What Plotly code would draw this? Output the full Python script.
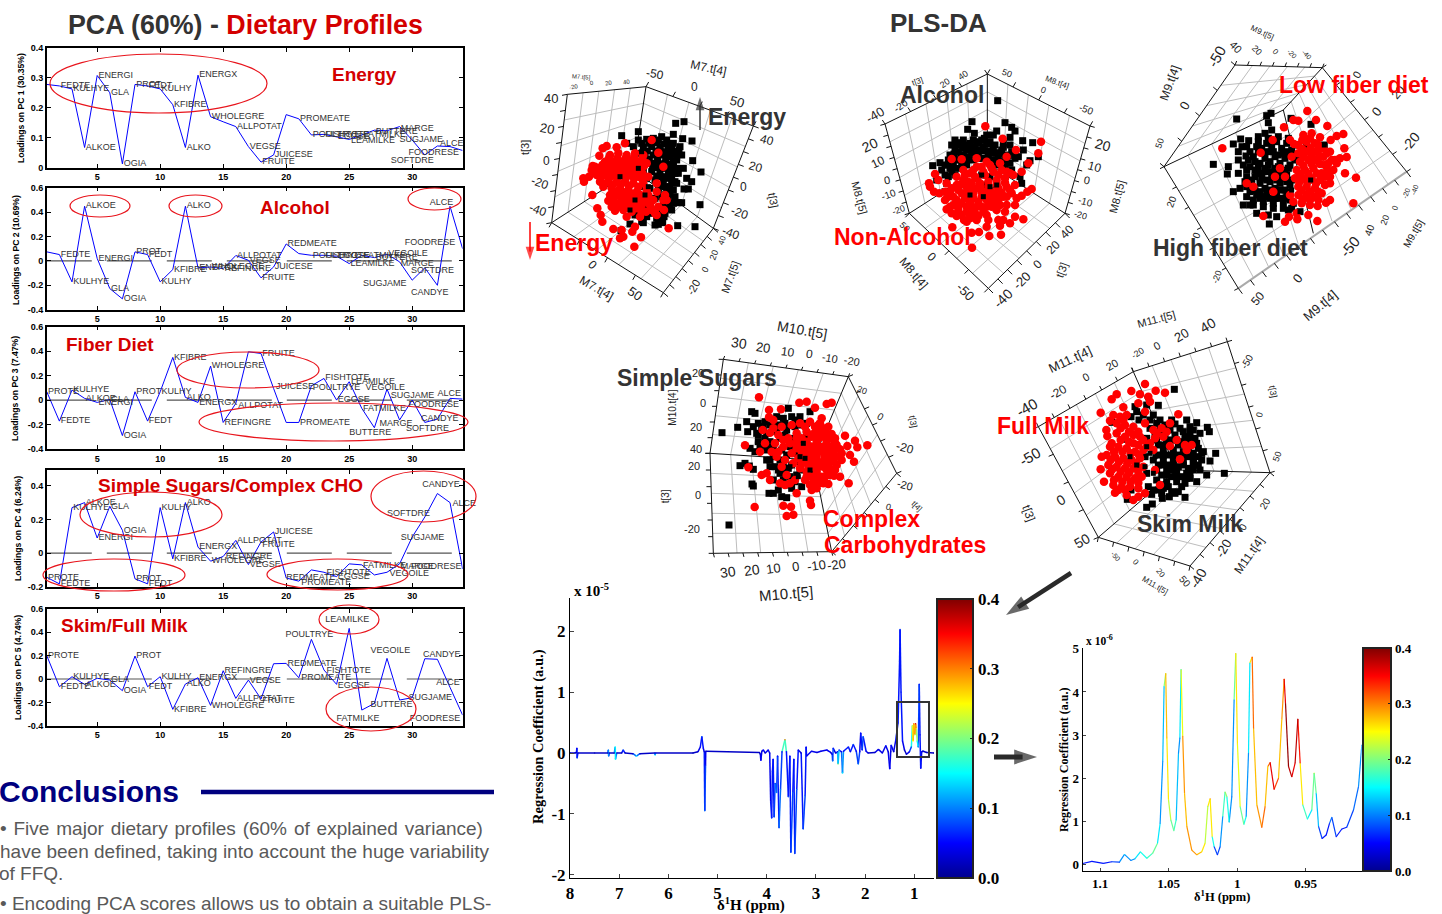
import plotly.graph_objects as go

W, H = 1442, 914

# ---------- PCA loadings ----------
variables = ["PROTE","FEDTE","KULHYE","ALKOE","ENERGI","GLA","OGIA","PROT","FEDT","KULHY","KFIBRE","ALKO",
             "ENERGX","WHOLEGRE","REFINGRE","ALLPOTAT","VEGSE","FRUITE","JUICESE","REDMEATE","PROMEATE",
             "POULTRYE","FISHTOTE","EGGSE","LEAMILKE","FATMILKE","BUTTERE","VEGOILE","MARGE","SUGJAME",
             "SOFTDRE","CANDYE","ALCE","FOODRESE"]
pc1 = [.278,.273,.263,.067,.308,.25,.012,.278,.273,.263,.21,.067,.309,.17,.153,.137,.07,.018,.042,.177,.163,
       .109,.111,.102,.094,.109,.125,.123,.137,.092,.042,.072,.07,.057]
pc2 = [.074,.052,-.172,.448,.02,-.227,-.311,.074,.052,-.172,-.071,.448,-.057,-.05,-.063,.044,.005,-.139,-.05,
       .139,.06,.046,.046,.038,-.022,.046,.027,.055,-.008,-.158,-.057,-.2,.448,.10]
pc3 = [.068,-.172,.082,.014,-.019,.005,-.29,.068,-.172,.068,.349,.022,-.019,.278,-.183,-.027,.395,.381,.095,
       -.183,-.183,.117,.177,0,.15,-.068,-.226,.09,-.163,0,-.183,-.155,.014,.008]
pc4 = [-.144,-.183,.271,.301,.09,.279,.136,-.153,-.183,.271,-.034,.301,.036,-.048,-.02,.076,-.068,.066,.126,
       -.148,-.167,-.1,-.114,-.14,-.064,-.07,-.13,-.114,-.064,.096,.215,.355,.301,-.094]
pc5 = [.2,-.066,.02,-.046,.006,-.009,-.1,.197,-.066,.02,-.26,-.043,.011,-.226,.071,-.166,-.009,-.171,.131,.134,
       .011,.34,.077,-.046,.434,-.266,-.209,.177,-.18,-.16,.174,.169,-.071,-.309]
pc_titles = ["Loadings on PC 1 (30.35%)","Loadings on PC 2 (10.69%)","Loadings on PC 3 (7.47%)",
             "Loadings on PC 4 (6.24%)","Loadings on PC 5 (4.74%)"]
x_ticks = [5,10,15,20,25,30]

# label placement adjustments (variable: x, y in data units; None = not drawn)
place1 = {"PROTE":None,"REDMEATE":None,"REFINGRE":None,"CANDYE":None,"VEGOILE":None,"SOFTDRE":(28.3,.023),"FOODRESE":(29.7,.05),
          "ALCE":(32.2,.078),"SUGJAME":(29,.094),"BUTTERE":(27.1,.12),"MARGE":(29.1,.131),"LEAMILKE":(25.15,.09)}
place2 = {"PROTE":None,"PROMEATE":None,"FOODRESE":(29.4,.148),"ALCE":(31.4,.478),"SOFTDRE":(29.9,-.082),
          "CANDYE":(29.9,-.262),"SUGJAME":(26.1,-.19),"MARGE":(29.1,-.022),"LEAMILKE":(25.1,-.022)}
place3 = {"REDMEATE":None,"VEGSE":None,"SUGJAME":(28.3,.033),"ALCE":(32,.054),"FOODRESE":(29.7,-.035),"CANDYE":(30.7,-.152),
          "SOFTDRE":(29.5,-.232),"MARGE":(27.4,-.19),"BUTTERE":(25,-.267),"FATMILKE":(26.1,-.074),
          "LEAMILKE":(25.15,.15),"VEGOILE":(26.3,.1),"FISHTOTE":(23.1,.183),"POULTRYE":(22.1,.1),
          "JUICESE":(19.2,.109),"ALLPOTAT":(16.2,-.046),"ENERGX":(13.1,-.022)}
place4 = {"BUTTERE":None,"LEAMILKE":None,"POULTRYE":None,"CANDYE":(30.8,.407),"ALCE":(33.2,.295),"SOFTDRE":(28,.235),
          "SUGJAME":(29.1,.092),"FOODRESE":(29.9,-.08),"MARGE":(29.1,-.08),"FATMILKE":(26.1,-.078),
          "VEGOILE":(28.2,-.124),"REDMEATE":(20,-.144),"PROMEATE":(21.2,-.177),"FISHTOTE":(23.2,-.114),
          "FRUITE":(18.1,.05),"REFINGRE":(15.2,-.024)}
place5 = {"MARGE":None,"JUICESE":None,"SOFTDRE":None,"ENERGI":None,"POULTRYE":(19.95,.377),"PROMEATE":(21.2,.011),"FISHTOTE":(23.2,.071),
          "EGGSE":(24.1,-.057),"LEAMILKE":(23.1,.511),"FATMILKE":(24,-.337),"BUTTERE":(26.7,-.217),
          "VEGOILE":(26.7,.243),"SUGJAME":(29.7,-.157),"FOODRESE":(29.8,-.337),"CANDYE":(30.85,.211),
          "ALCE":(31.9,-.031),"FRUITE":(18.1,-.186),"VEGSE":(17.1,-.014),"WHOLEGRE":(14.1,-.229)}

# ---------- Spectrum (full range) ----------
ppm_full = [8.0,7.9,7.87,7.86,7.855,7.84,7.5,7.23,7.22,7.215,7.2,7.1,7.08,7.075,7.05,6.95,6.92,6.88,6.72,6.65,6.58,
            6.28,6.27,6.26,5.5,5.4,5.35,5.32,5.29,5.27,5.26,5.245,5.24,4.15,4.13,4.12,4.1,4.07,4.03,3.97,3.94,3.92,
            3.9,3.885,3.87,3.85,3.83,3.8,3.78,3.75,3.72,3.69,3.63,3.6,3.56,3.53,3.51,3.47,3.45,3.43,3.39,3.36,3.3,
            3.26,3.22,3.2,3.19,3.09,2.98,2.9,2.78,2.7,2.67,2.66,2.65,2.6,2.56,2.55,2.53,2.48,2.46,2.44,2.34,2.3,
            2.24,2.18,2.14,2.11,2.09,2.06,2.04,1.98,1.94,1.8,1.73,1.65,1.58,1.53,1.5,1.48,1.47,1.42,1.38,1.33,1.3,
            1.29,1.27,1.24,1.2,1.16,1.1,1.06,1.04,1.025,1.01,.99,.975,.96,.94,.92,.9,.885,.87,.85,.83,.82,.75,.6]
coef_full = [0,0,.01,.08,-.08,0,0,0,.05,-.05,0,0,.1,-.1,0,0,.05,0,-.01,-.05,-.01,0,-.03,0,0,.02,.1,.27,.08,.02,-.95,
             -.2,.03,.01,-.02,-.12,.03,.05,0,.05,.0,-.8,-1.07,-.3,-.1,-1.05,-.5,-.65,-.05,-1.23,-.6,.02,.22,.02,-.72,
             -.05,-1.63,-.65,-.1,-1.65,-.6,.05,0,-1.25,-.7,.1,-.05,.03,.01,.03,.05,.01,-.02,-.13,.08,.0,.02,-.18,.05,
             .02,-.33,.03,.1,.02,.14,.03,-.18,.02,.33,.05,.27,.03,0,.01,.06,0,.12,.02,-.26,.02,.13,.02,.2,.5,1.5,2.03,
             1.0,.2,.05,-.02,.02,.1,.45,.2,.48,.3,.48,.4,.2,.1,1.13,.3,-.25,.02,.03,.03,.01,0]
corr_full = [.02,.02,.03,.05,.08,.02,.02,.02,.1,.1,.03,.02,.15,.15,.03,.02,.08,.02,.03,.15,.03,.03,.14,.03,.02,.03,
             .05,.08,.05,.03,.09,.06,.03,.02,.03,.05,.03,.05,.03,.05,.03,.06,.07,.06,.05,.08,.07,.1,.05,.08,.1,.05,.3,
             .05,.08,.05,.07,.08,.05,.07,.09,.04,.03,.08,.08,.05,.04,.04,.03,.04,.05,.03,.04,.1,.06,.03,.04,.2,.06,.04,
             .15,.05,.06,.04,.08,.05,.1,.04,.05,.05,.09,.04,.03,.03,.04,.03,.06,.03,.05,.03,.06,.03,.05,.06,.06,.07,.06,
             .05,.03,.03,.05,.09,.22,.25,.3,.22,.36,.24,.18,.1,.06,.05,.05,.04,.03,.03,.02,.02]

# ---------- Spectrum (expanded) ----------
ppm_zoom = [1.1127,1.106,1.0976,1.0915,1.0859,1.0822,1.0776,1.0745,1.0706,1.0659,1.0616,1.0581,1.0562,1.0543,1.0533,
            1.0521,1.0513,1.0501,1.0484,1.0462,1.0445,1.0428,1.0418,1.0409,1.0397,1.0384,1.0367,1.0331,1.0294,1.0258,
            1.0234,1.0214,1.0197,1.0182,1.0168,1.0144,1.0124,1.0105,1.0088,1.0075,1.0058,1.0039,1.0022,1.001,.9998,
            .9978,.9951,.9934,.9917,.9907,.989,.988,.9856,.982,.9796,.9776,.9759,.973,.9698,.9674,.9657,.9647,.9625,
            .9601,.9577,.9557,.954,.9521,.9487,.9455,.9438,.9423,.9406,.938,.935,.9326,.9309,.9277,.9236,.92,.9151,
            .9114,.909]
coef_zoom = [.02,.07,.02,.06,.05,.23,.09,.13,.29,.14,.26,.49,.95,2.39,4.13,4.43,2.93,1.5,1.03,.78,1.03,2.58,2.93,4.52,
             2.97,1.65,.88,.33,.22,.29,.49,1.34,1.52,.64,.41,.22,.41,1.11,1.68,1.57,.98,1.57,3.82,4.89,2.81,1.34,.93,
             1.11,2.58,4.67,4.81,3.16,1.38,.86,1.34,2.27,2.36,1.74,2.0,3.36,4.3,3.74,2.27,2.03,2.35,3.37,2.35,1.38,
             1.05,1.26,2.12,1.65,.88,.6,.68,.95,1.09,.64,.82,.86,1.26,1.81,2.77]
corr_zoom = [.05,.05,.06,.07,.07,.14,.09,.12,.16,.16,.2,.17,.11,.1,.15,.27,.27,.24,.2,.19,.15,.1,.1,.19,.3,.27,.28,.29,
             .28,.26,.24,.2,.31,.2,.1,.06,.09,.13,.21,.2,.12,.08,.12,.27,.26,.21,.17,.13,.1,.17,.33,.3,.25,.32,.29,.26,
             .36,.35,.3,.26,.33,.39,.39,.36,.37,.38,.32,.2,.15,.15,.24,.15,.09,.05,.06,.07,.1,.05,.06,.07,.09,.1,.11]

# ---------- PLS-DA score clouds (projected positions) ----------
m7_black = [(497,250),(522,245),(385,275),(335,287),(490,283),(518,296),(546,303),(507,330),(548,362),(573,396),(530,415),(545,425),(520,385),(535,447),(522,447),(515,488),(505,488),(570,494),(555,560),(503,557),(445,553),(458,548),(400,548),(333,572),(360,552),
            (385,300),(410,298),(430,295),(455,290),(470,300),(490,310),(510,320),(400,320),(425,320),(450,320),(475,325),(495,335),(515,345),(350,310),(370,320),(380,340),(405,345),(430,345),(455,345),(480,350),(500,360),(390,365),(415,370),(440,370),(465,370),(490,380),(505,400),(400,390),(425,395),(450,395),(475,400),(495,425),(410,415),(435,420),(460,425),(480,440),(500,430),(390,440),(420,445),(445,450),(470,460),(380,480),(410,465),(435,475),(460,490),(480,495),(485,510),(465,520),(440,510),(410,500),(385,505),(375,525),(410,530),(440,535),(462,530),(395,545),(435,555),
            (395,310),(418,310),(440,308),(462,312),(485,322),(412,333),(438,333),(462,335),(487,342),(418,357),(443,358),(467,358),(490,365),(428,382),(452,382),(477,385),(440,408),(463,410),(485,412),(452,438),(472,448),(490,450),(455,470),(475,478),(490,490),
            (445,300),(475,312),(505,335),(450,332),(475,338),(500,348),(430,370),(455,372),(478,372),(500,385),(440,383),(465,385),(490,395),(450,410),(475,415),(495,400),(465,440),(485,428),(480,462),(495,470),(470,505),(450,525),(425,520),(400,515),(455,540)]
m7_red = [(290,318),(278,325),(268,347),(248,378),(245,390),(237,410),(220,415),(222,425),(247,465),(262,505),(272,525),(277,545),(310,567),(335,570),(330,595),(340,590),(367,575),(393,592),(373,620),(476,565),(435,520),(462,510),(408,515),(350,530),(390,530),(375,560),(345,310),(320,322),(445,338),(460,380),(425,300),
          (300,345),(325,340),(350,345),(375,340),(400,345),(285,365),(310,365),(335,365),(360,365),(385,365),(410,370),(265,385),(290,385),(315,385),(340,385),(365,385),(390,390),(260,405),(285,405),(310,405),(335,405),(360,405),(385,410),(415,410),(270,425),(295,425),(320,425),(345,425),(370,430),(400,430),(440,430),(280,440),(305,445),(330,445),(355,450),(380,455),(410,450),(440,455),(465,465),(300,465),(325,465),(350,470),(375,470),(400,475),(430,480),(460,480),(295,482),(320,490),(345,490),(370,495),(395,495),(420,495),(445,500),(315,512),(340,510),(365,515),(395,515),(440,525),(470,480),(255,380),(275,400),(250,395),
          (297,355),(322,355),(347,355),(372,355),(397,355),(277,375),(302,375),(327,375),(352,375),(377,375),(402,378),(272,395),(297,395),(322,395),(347,395),(372,395),(397,400),(272,415),(297,415),(322,415),(347,415),(372,415),(397,418),(282,432),(307,435),(332,435),(357,438),(385,440),(312,455),(337,455),(362,460),(388,463),(415,465),(310,477),(335,478),(360,482),(385,483),(410,485),(330,500),(355,503),(380,505),(305,500),(425,510)]
m8_black = [(503,152),(426,215),(525,218),(545,232),(555,243),(413,238),(500,243),(433,250),(470,255),(490,255),(540,262),(578,272),(608,278),(375,270),(400,270),(365,285),(385,285),(410,285),(430,270),(455,270),(480,275),(520,280),(540,285),(580,300),(360,315),(385,305),(410,300),(435,290),(460,290),(490,295),(515,300),(545,305),(565,320),(625,320),(600,332),(330,338),(308,347),(355,330),(380,330),(415,320),(445,310),(475,315),(505,320),(530,330),(590,345),(335,360),(360,355),(395,345),(355,380),(375,375),(320,390),(350,400),(345,425),(420,435),(480,380),(455,375),(500,405),(570,380),(575,400),(470,405),(545,360),(500,345),
            (375,298),(398,295),(422,295),(447,280),(470,282),(495,285),(520,292),(400,315),(425,310),(450,300),(475,303),(500,308),(525,315),(555,312),(370,345),(405,335),(430,330),(458,325),(490,330),(515,335),(540,340),(345,345),(345,375),(365,365),
            (440,275),(463,265),(420,280),(392,278),(435,303),(462,303),(488,310),(512,310),(535,318),(372,312),(392,320),(412,328),(445,325),(472,325),(500,330),(525,345),(355,345),(380,355),(410,345),(555,325)]
m8_red = [(466,229),(518,266),(633,275),(625,310),(558,300),(530,320),(595,340),(365,327),(395,328),(440,325),(470,335),(550,375),(575,365),(315,372),(325,390),(297,400),(300,410),(312,425),(328,430),(350,478),(365,490),(380,498),(402,510),(440,510),(475,510),(505,510),(520,510),(540,520),(555,500),(580,508),(510,527),(470,530),(367,532),(425,548),(447,546),(478,558),(513,554),(426,593),(605,417),(592,425),(575,437),(560,445),(530,465),(555,465),(525,485),(500,480),(495,460),
          (345,450),(370,440),(395,430),(420,420),(345,425),(365,415),(390,405),(415,395),(440,385),(465,375),(490,365),(515,360),(540,370),(380,380),(405,375),(430,360),(455,350),(480,345),(510,340),(350,400),(380,405),(405,430),(430,430),(455,425),(480,420),(505,415),(530,410),(555,405),(545,430),(520,440),(495,445),(470,450),(445,455),(420,460),(395,460),(370,465),(385,480),(410,485),(435,490),(460,485),(485,470),(510,465),(450,400),(475,395),(500,390),(525,385),(420,505),(380,455),(440,470),(470,470),
          (400,390),(425,400),(450,412),(475,408),(500,402),(525,398),(360,430),(385,420),(410,410),(440,415),(465,425),(490,430),(515,428),(540,420),(355,440),(380,450),(405,445),(430,445),(455,440),(480,435),(505,430),(530,440),(360,470),(385,470),(410,470),(430,475),(455,470),(480,455),(505,450),(395,495),(420,495),(445,498),(470,495),(410,515),(435,380),(460,365),(485,355),(420,370),(400,360),(440,350),(505,375),(530,365)]
m9_black = [(740,297),(830,287),(843,280),(835,308),(845,330),(825,340),(963,313),(903,295),(805,350),(752,357),(776,362),(730,372),(756,380),(670,433),(715,440),(712,462),(745,395),(768,408),(745,420),(760,435),(745,460),(730,515),(750,505),(770,500),(760,555),(780,555),(800,580),(838,612),(835,585),(860,590),(895,570),(930,575),(1003,375),(962,480),
            (800,380),(830,370),(860,365),(890,370),(920,375),(950,380),(790,410),(820,400),(850,395),(880,400),(910,405),(940,410),(780,440),(810,430),(840,425),(870,430),(900,435),(770,470),(800,460),(830,455),(860,460),(890,465),(780,500),(810,490),(840,485),(870,490),(900,495),(800,525),(830,520),(860,520),(890,525),(820,545),(850,550),(880,545),(910,550),(790,540),(770,530),
            (815,385),(845,380),(875,385),(905,390),(935,395),(795,425),(825,415),(855,410),(885,415),(915,420),(795,450),(825,445),(855,445),(885,450),(785,480),(815,475),(845,470),(875,475),(905,480),(795,512),(825,505),(855,505),(885,510),(810,535),(840,535),(870,535),(900,540),(770,380),(780,395),
            (805,365),(835,355),(865,350),(895,355),(805,395),(835,395),(865,405),(895,395),(925,405),(775,420),(805,440),(835,435),(865,440),(895,445),(770,450),(815,460),(845,455),(875,455),(765,485),(795,470),(830,480),(860,480),(890,485),(780,515),(810,515),(840,510),(870,510),(900,515),(825,530),(855,535),(885,535),(790,555),(820,560),(850,565),(880,565),(905,565)]
m9_red = [(952,273),(910,300),(925,302),(978,300),(1012,318),(882,322),(1060,342),(1040,348),(1022,360),(990,352),(697,385),(1063,385),(1070,411),(1050,415),(1098,473),(1065,460),(1090,550),(1020,540),(1008,548),(983,558),(982,603),(955,585),(922,598),(885,605),(820,588),(897,590),(770,490),(790,500),(850,515),(812,398),(848,360),(905,410),(870,445),(855,470),(885,470),
          (900,360),(940,345),(965,340),(925,375),(950,365),(975,370),(1000,385),(1020,395),(925,400),(950,395),(975,395),(1000,410),(1025,420),(930,425),(955,420),(980,420),(1005,435),(1030,450),(920,450),(945,450),(970,445),(995,460),(1020,470),(915,475),(940,475),(965,475),(990,480),(1020,490),(925,500),(950,500),(975,505),(995,520),(925,525),(950,525),(975,530),(910,545),(935,550),(960,555),(900,525),(920,580),
          (912,372),(937,360),(960,355),(985,375),(1010,400),(937,387),(962,385),(987,385),(1015,430),(940,410),(965,408),(990,408),(1035,420),(940,437),(965,432),(990,432),(1012,450),(930,462),(955,462),(980,460),(1005,470),(928,487),(952,487),(978,490),(1005,495),(935,512),(960,515),(985,515),(938,538),(960,540),(985,540),(1040,430)]
m10_black = [(336,368),(383,352),(410,335),(425,305),(435,310),(413,365),(535,295),(430,350),(445,340),(465,335),(480,345),(500,320),(520,325),(545,320),(570,320),(600,305),(440,370),(465,385),(445,395),(420,415),(435,425),(390,467),(405,460),(430,478),(418,468),(426,522),(430,528),(477,550),(490,550),(505,540),(515,560),(530,563),(357,645),(470,420),(490,410),(510,385),(530,360),(555,350),(590,340),(515,420),(540,410),(565,395),(590,375),(470,450),(495,470),(520,465),(545,465),(570,480),(600,490),(510,490),(540,500),(575,530),(545,535),(480,470),
             (455,360),(480,395),(500,365),(450,410),(490,440),(510,450),(530,435),(555,430),(570,455),(525,480),(490,510),(555,515),(520,345),(555,330),(575,345),(500,345),
             (525,340),(460,350),(445,375),(470,370),(525,375),(545,385),(470,405),(500,425),(480,450),(505,480),(535,475),(560,495),(520,510),(535,525)]
m10_red = [(447,262),(477,300),(513,298),(568,278),(590,275),(615,293),(650,282),(665,278),(477,322),(490,330),(635,325),(405,406),(450,425),(415,472),(434,591),(520,587),(543,590),(530,618),(550,614),(600,572),(603,585),(560,550),(605,540),(716,520),(772,406),(742,412),(735,392),(705,377),(712,408),(732,455),(720,435),(690,500),(672,497),(655,522),(458,360),(480,368),(490,355),(515,350),(545,345),(465,400),(495,400),(520,390),(455,495),(470,490),(480,510),(510,520),(525,525),(585,510),
           (570,340),(600,335),(630,340),(655,350),(560,370),(590,365),(620,365),(650,370),(675,385),(535,385),(560,400),(590,395),(620,395),(650,395),(680,405),(545,430),(575,425),(605,425),(635,425),(665,425),(695,430),(550,460),(580,455),(610,455),(640,455),(670,455),(695,450),(590,485),(620,485),(650,480),(675,480),(610,515),(635,515),(620,535),(500,440),(525,450),(600,410),(630,410),(615,440),(645,440),
           (585,350),(615,350),(640,355),(575,385),(605,380),(635,380),(660,385),(575,410),(605,410),(640,410),(665,410),(690,418),(560,415),(590,440),(620,425),(650,425),(680,440),(565,445),(595,470),(625,470),(655,468),(680,465),(570,475),(605,500),(635,500),(660,495),(625,520),(600,525),(520,410),(505,375),(485,425),(515,470),(540,520),(530,495),(555,510),(505,425),
           (625,345),(610,372),(640,368),(665,372),(625,385),(650,385),(590,405),(620,410),(650,410),(675,398),(675,418),(590,425),(620,440),(650,440),(670,440),(605,440),(590,455),(625,455),(655,455),(610,470),(640,470),(665,480),(620,500),(645,500),(640,520),(590,500),(575,460),(560,385),(540,400)]
m11_black = [(553,268),(505,316),(435,320),(470,315),(366,367),(423,350),(447,360),(490,345),(510,360),(545,360),(620,368),(600,380),(652,382),(658,395),(630,400),(677,460),(660,483),(703,520),(650,525),(640,455),(470,622),(487,612),(412,598),(517,595),(585,592),(538,590),(423,570),(485,583),(405,418),(440,495),(620,545),(600,535),(565,575),
             (480,385),(510,390),(540,390),(570,385),(600,400),(470,415),(500,420),(530,420),(560,420),(590,425),(620,430),(490,450),(520,450),(550,450),(580,455),(610,460),(635,480),(490,480),(520,480),(550,480),(580,485),(610,490),(630,510),(470,520),(500,510),(530,510),(560,515),(590,520),(610,510),(500,540),(530,545),(560,545),(585,550),(490,570),(520,565),(545,575),(465,470),
             (495,405),(525,405),(555,405),(585,410),(615,415),(505,435),(535,435),(565,435),(595,440),(625,445),(505,465),(535,465),(565,465),(595,470),(625,470),(505,495),(535,495),(565,500),(595,505),(625,495),(515,525),(545,530),(575,530),(600,525),(510,555),(535,560),(515,580),(575,560),(590,360),(610,390),
             (500,370),(525,375),(555,372),(580,395),(600,415),(520,435),(550,420),(580,425),(610,430),(520,465),(550,465),(580,465),(610,475),(635,460),(520,495),(550,495),(580,495),(610,495),(530,525),(560,530),(590,535),(545,510),(475,560),(505,570),(555,580),(460,345),(480,360),(440,335)]
m11_red = [(465,252),(497,272),(525,278),(424,273),(380,283),(365,298),(450,283),(475,290),(480,305),(445,310),(400,322),(332,338),(370,345),(390,350),(410,345),(465,335),(360,362),(349,390),(352,408),(565,343),(540,370),(515,385),(430,405),(560,420),(585,435),(605,435),(540,438),(590,450),(570,478),(495,510),(510,555),(335,470),(332,508),(342,545),(375,578),
           (380,370),(405,375),(430,380),(465,370),(490,390),(380,400),(405,410),(430,430),(460,420),(495,415),(520,410),(360,440),(385,440),(410,445),(435,455),(460,450),(350,465),(375,470),(400,475),(425,480),(450,475),(355,495),(380,500),(405,505),(430,505),(460,500),(360,520),(385,530),(410,530),(435,535),(455,530),(370,555),(395,560),(420,560),(445,565),(430,600),(445,590),(465,580),(405,570),
           (392,385),(417,395),(445,395),(392,420),(417,425),(445,435),(480,430),(372,455),(397,455),(422,460),(447,465),(362,480),(387,485),(412,490),(437,490),(367,508),(392,515),(417,518),(445,515),(372,540),(397,545),(422,545),(445,548),(385,570),(410,585),(500,400),(470,440),(490,450),(530,395),(450,410),(400,360),(365,430)]

A = dict(crop=(510,40,480,270), black=m7_black, red=m7_red, over=[(375,480),(405,465),(440,410),(470,440),(360,510),(385,385),(330,410),(415,440),(395,335),(440,360),(425,390)],
    walls=[[(172,163),(408,140),(370,390),(125,548)],[(408,140),(730,258),(610,565),(370,390)],[(125,548),(370,390),(610,565),(460,758)]],
    edges=[[(172,163),(408,140)],[(408,140),(730,258)],[(730,258),(610,565)],[(610,565),(460,758)],[(125,548),(460,758)],[(172,163),(125,548)],[(408,140),(370,390)],[(125,548),(370,390)],[(610,565),(370,390)]],
    ticks=[((172,163),(125,548),8,(-16,3)),((730,258),(610,565),8,(16,6)),((610,565),(460,758),8,(14,12)),((125,548),(460,758),4,(-8,14)),((408,140),(730,258),4,(8,-14))],
    labels=[("M7.t[4]",595,85,12,12),("-50",435,103,10,12),("0",552,140,0,12),("50",680,185,15,13),("40",122,175,0,13),("20",112,265,10,13),("0",110,362,0,12),("-20",90,430,20,12),("-40",85,510,20,12),("t[3]",47,322,-90,11),("40",770,300,15,12),("20",738,380,15,12),("0",700,440,0,12),("-20",690,518,20,12),("-40",662,580,20,12),("t[3]",790,480,80,11),("0",248,675,45,12),("50",375,760,35,13),("M7.t[4]",258,745,30,12),("40",635,600,-70,8),("20",612,645,-70,9),("0",585,690,-60,9),("-20",550,740,-60,11),("M7.t[5]",660,710,-70,11),("-20",190,140,-10,6),("0",245,130,-10,6),("20",295,128,-10,6),("40",350,125,-10,6),("M7.t[5]",215,110,5,6)])
B = dict(crop=(830,50,310,270), black=m8_black, red=m8_red, over=[(420,435),(455,375),(480,410),(500,405),(460,440)],
    walls=[[(165,222),(472,72),(472,340),(238,490)],[(472,72),(780,228),(705,490),(472,340)],[(238,490),(472,340),(705,490),(475,715)]],
    edges=[[(165,222),(472,72)],[(472,72),(780,228)],[(780,228),(705,490)],[(705,490),(475,715)],[(475,715),(238,490)],[(238,490),(165,222)],[(472,72),(472,340)],[(238,490),(472,340)],[(705,490),(472,340)]],
    ticks=[((165,222),(238,490),8,(-14,4)),((780,228),(705,490),8,(14,4)),((705,490),(475,715),8,(14,14)),((238,490),(475,715),4,(-12,12)),((472,72),(780,228),4,(8,-14)),((165,222),(472,72),4,(-8,-12))],
    labels=[("-40",138,195,-30,13),("-20",212,165,-35,10),("20",345,100,-35,9),("40",400,75,-35,9),("t[3]",262,95,-20,8),("50",530,70,20,9),("0",640,120,20,9),("-50",770,178,20,10),("M8.t[4]",682,97,20,8),("20",120,285,-25,14),("10",145,335,-25,12),("0",170,390,-10,11),("-10",175,432,-20,10),("-20",205,480,-20,9),("M8.t[5]",88,445,75,11),("20",820,285,15,14),("10",795,350,15,12),("0",770,390,10,11),("-10",765,455,15,10),("-20",750,495,15,9),("M8.t[5]",860,440,-75,11),("50",225,530,45,9),("0",305,622,45,12),("-50",405,725,45,13),("M8.t[4]",250,670,50,12),("40",710,545,-45,12),("20",670,590,-45,12),("0",623,642,-45,12),("-20",575,690,-45,13),("-40",520,745,-45,14),("t[3]",695,660,-70,11)])
C = dict(crop=(990,20,450,300), black=m9_black, red=m9_red, over=[(962,480),(895,570),(930,575),(900,440),(880,400),(905,510),(1003,375)],
    walls=[[(735,135),(997,143),(880,270),(522,440)],[(997,143),(1250,455),(970,640),(880,270)],[(522,440),(880,270),(970,640),(745,805)]],
    edges=[[(735,135),(997,143)],[(735,135),(522,440)],[(522,440),(745,805)],[(1250,455),(997,143)],[(522,440),(880,270)],[(997,143),(880,270)],[(970,640),(880,270)]],
    ticks=[((735,135),(522,440),4,(-12,-10)),((522,440),(745,805),6,(-12,6)),((997,143),(1250,455),6,(12,-8)),((745,805),(1250,455),14,(12,16)),((735,135),(997,143),7,(5,-12))],
    labels=[("M9.t[5]",815,38,25,8),("-50",680,110,-60,15),("40",738,80,45,11),("20",800,90,45,9),("0",855,95,45,8),("-20",905,100,45,7),("-40",950,102,45,7),("M9.t[4]",540,190,-70,12),("0",582,258,-60,13),("50",510,370,-70,9),("0",1100,165,-60,11),("20",1225,215,-50,12),("0",1160,275,-50,13),("-20",1260,365,-50,14),("20",545,545,-70,10),("0",618,645,-70,10),("-20",680,770,-70,9),("-50",1080,680,-50,15),("0",922,775,-50,13),("50",805,835,-50,12),("M9.t[4]",990,855,-40,13),("40",1140,630,-70,10),("20",1185,600,-70,9),("0",1215,565,-70,8),("-20",1248,520,-70,7),("-40",1275,510,-70,7),("M9.t[5]",1270,640,-60,10)],
    thick=[[(745,805),(1250,455)]])
D = dict(crop=(610,310,320,300), black=m10_black, red=m10_red, over=[(580,400),(570,440),(600,480),(540,470),(565,500),(585,445)],
    walls=[[(340,148),(715,200),(610,450),(300,430)],[(715,200),(860,490),(665,725),(610,450)],[(300,430),(610,450),(665,725),(310,730)]],
    edges=[[(340,148),(715,200)],[(340,148),(300,430)],[(300,430),(310,730)],[(310,730),(665,725)],[(665,725),(860,490)],[(860,490),(715,200)],[(715,200),(610,450)],[(300,430),(610,450)],[(665,725),(610,450)]],
    ticks=[((340,148),(715,200),8,(4,-10)),((340,148),(300,430),6,(-14,0)),((300,430),(310,730),6,(-14,0)),((310,730),(665,725),8,(3,12)),((715,200),(860,490),6,(14,-6)),((860,490),(665,725),6,(12,10))],
    labels=[("M10.t[5]",578,60,10,14),("30",388,100,8,14),("20",458,112,8,13),("10",533,125,8,12),("0",597,133,8,12),("-10",660,145,10,11),("-20",725,152,10,11),("20",265,190,0,11),("0",278,278,0,11),("20",258,352,0,11),("40",258,417,0,11),("M10.t[4]",187,292,-90,10),("20",253,468,0,11),("0",265,555,0,11),("-20",245,657,0,11),("t[3]",167,560,-90,10),("20",755,240,20,9),("0",812,318,30,10),("-20",885,415,15,12),("t[3]",910,335,80,9),("-20",885,525,15,11),("0",835,590,15,9),("t[4]",920,590,45,8),("30",355,785,-8,14),("20",425,780,-8,14),("10",490,775,-8,13),("0",555,770,-8,13),("-10",620,765,-8,13),("-20",680,763,-8,13),("M10.t[5]",528,850,-5,15)])
E = dict(crop=(990,300,310,300), black=m11_black, red=m11_red, over=[(440,495),(470,440),(480,460),(495,470),(420,470),(465,500),(490,520)],
    walls=[[(145,380),(430,215),(560,510),(325,712)],[(430,215),(712,125),(840,518),(560,510)],[(325,712),(560,510),(840,518),(600,798)]],
    edges=[[(145,380),(430,215)],[(430,215),(712,125)],[(712,125),(840,518)],[(840,518),(600,798)],[(600,798),(325,712)],[(325,712),(145,380)],[(430,215),(560,510)],[(325,712),(560,510)],[(840,518),(560,510)]],
    ticks=[((145,380),(430,215),6,(-6,-12)),((430,215),(712,125),6,(-4,-12)),((712,125),(840,518),6,(14,-4)),((840,518),(600,798),8,(12,10)),((325,712),(600,798),6,(-3,14)),((145,380),(325,712),4,(-14,6))],
    labels=[("M11.t[5]",500,58,-15,11),("40",655,75,-30,14),("20",572,105,-30,13),("0",500,138,-30,11),("-20",443,158,-35,9),("M11.t[4]",240,178,-25,13),("20",365,195,-30,11),("0",288,232,-30,11),("-20",205,275,-30,12),("-40",110,322,-30,15),("-50",770,183,-60,10),("0",808,345,-75,9),("50",860,470,-70,9),("t[3]",850,275,80,9),("-50",120,470,-30,15),("0",212,600,-30,14),("50",275,722,-30,14),("t[3]",115,640,70,12),("-50",378,768,50,7),("0",437,788,50,8),("20",510,818,50,8),("M11.t[5]",495,855,30,8),("50",585,845,50,10),("20",825,610,-60,10),("0",760,680,-60,10),("-20",700,745,-60,13),("-40",625,835,-60,14),("M11.t[4]",778,765,-55,12)])
clouds = [A,B,C,D,E]

SANS = "Liberation Sans"
SERIF = "Liberation Serif"
RED = "#d40000"
BRIGHT = "#ff0000"
DARK = "#333333"
NAVY = "#00007f"
JET = [[0,"rgb(0,0,143)"],[.125,"rgb(0,0,255)"],[.375,"rgb(0,255,255)"],[.625,"rgb(255,255,0)"],[.875,"rgb(255,0,0)"],[1,"rgb(128,0,0)"]]

def jet_colour(t):
    stops = [(0,(0,0,143)),(.125,(0,0,255)),(.375,(0,255,255)),(.625,(255,255,0)),(.875,(255,0,0)),(1,(128,0,0))]
    for (a,ca),(b,cb) in zip(stops,stops[1:]):
        if t <= b:
            f = (t-a)/(b-a)
            return "rgb(%d,%d,%d)" % tuple(round(p+(q-p)*f) for p,q in zip(ca,cb))
    return "rgb(128,0,0)"

fig = go.Figure()
layout = dict(width=W, height=H, margin=dict(l=0,r=0,t=0,b=0,pad=0,autoexpand=False), paper_bgcolor="white", plot_bgcolor="rgba(0,0,0,0)",
              showlegend=False, font=dict(family=SANS, color="black"))
annots, shapes = [], []
ax_n = [0]

def add_axes(x0,y0,x1,y1,xa,ya):
    ax_n[0] += 1
    n = ax_n[0]
    sfx = "" if n == 1 else str(n)
    xa = dict(xa, domain=[x0/W,x1/W], anchor="y"+sfx)
    ya = dict(ya, domain=[1-y1/H,1-y0/H], anchor="x"+sfx)
    layout["xaxis"+sfx] = xa
    layout["yaxis"+sfx] = ya
    return "x"+sfx, "y"+sfx

def txt(s,x,y,size=12,color="black",family=SANS,bold=False,angle=0,anchor="center"):
    annots.append(dict(text=f"<b>{s}</b>" if bold else s, x=x/W, y=1-y/H, xref="paper", yref="paper", showarrow=False,
                       xanchor=anchor, yanchor="middle", textangle=angle, font=dict(size=size,color=color,family=family)))

def ellipse(x0,y0,x1,y1):
    shapes.append(dict(type="circle", xref="paper", yref="paper", x0=x0/W, x1=x1/W, y0=1-y0/H, y1=1-y1/H,
                       line=dict(color="#e8141c", width=1.2)))

# --- PCA loading panels ---
panels = [
    (pc1, place1, 48,167.5, [0,.4],  [0,.1,.2,.3,.4],            ["0","0.1","0.2","0.3","0.4"], 21, 108),
    (pc2, place2, 187.7,309.7, [-.4,.6], [-.4,-.2,0,.2,.4,.6],   ["-0.4","-0.2","0","0.2","0.4","0.6"], 16, 250),
    (pc3, place3, 326.7,449, [-.4,.6],[-.4,-.2,0,.2,.4,.6],      ["-0.4","-0.2","0","0.2","0.4","0.6"], 15, 389),
    (pc4, place4, 470,586.7, [-.2,.495],[-.2,0,.2,.4],           ["-0.2","0","0.2","0.4"], 18, 529),
    (pc5, place5, 609,725.7, [-.4,.6],[-.4,-.2,0,.2,.4,.6],      ["-0.4","-0.2","0","0.2","0.4","0.6"], 18, 668),
]
idx = list(range(1,35))
tick_font = dict(size=9, family=SANS, color="black", weight="bold")
for i,(vals,place,top,bot,rng,tv,tt,tx,ty) in enumerate(panels):
    base = dict(showgrid=False, zeroline=False, showline=True, linecolor="black", linewidth=1.5, mirror="ticks",
                ticks="inside", ticklen=4, tickwidth=1, tickcolor="black", tickfont=tick_font)
    xn,yn = add_axes(46.8,top,462.6,bot, dict(base, range=[1,34], tickvals=x_ticks, ticktext=[str(v) for v in x_ticks]),
                     dict(base, range=rng, tickvals=tv, ticktext=tt))
    if i > 0:
        fig.add_trace(go.Scatter(x=[1,34],y=[0,0],mode="lines",xaxis=xn,yaxis=yn,line=dict(color="#555555",width=1.2,dash="45px,15px")))
    fig.add_trace(go.Scatter(x=idx,y=vals,mode="lines",xaxis=xn,yaxis=yn,line=dict(color="#0000ff",width=1)))
    lx,ly,lt = [],[],[]
    for n,v,name in zip(idx,vals,variables):
        if name in place:
            if place[name] is None: continue
            a,b = place[name]
        else:
            a,b = n+.1,v
        lx.append(a); ly.append(b); lt.append(name)
    fig.add_trace(go.Scatter(x=lx,y=ly,text=lt,mode="text",textposition="middle right",xaxis=xn,yaxis=yn,cliponaxis=False,
                             textfont=dict(size=9,color="#333333",family=SANS)))
    txt(pc_titles[i],tx,ty,size=8.6,bold=True,angle=-90)

# --- spectrum helpers ---
def coloured(x,y,c,xn,yn,width):
    bins = {}
    for k in range(len(x)-1):
        b = min(int((c[k]+c[k+1])/2/.4*24),23)
        bins.setdefault(b,([],[]))
        bins[b][0].extend([x[k],x[k+1],None]); bins[b][1].extend([y[k],y[k+1],None])
    for b,(px,py) in sorted(bins.items()):
        fig.add_trace(go.Scatter(x=px,y=py,mode="lines",xaxis=xn,yaxis=yn,line=dict(color=jet_colour((b+.5)/24),width=width),connectgaps=False))

serif_tick = lambda s: dict(size=s,family=SERIF,color="black",weight="bold")
def cbar(x0,y0,y1,thick,size):
    return dict(x=x0/W,xanchor="left",xref="paper",y=1-y1/H,yanchor="bottom",yref="paper",thickness=thick,thicknessmode="pixels",
                len=y1-y0,lenmode="pixels",xpad=0,ypad=0,outlinewidth=2,outlinecolor="#222222",ticks="inside",ticklen=4,tickcolor="#222222",
                tickvals=[0,.1,.2,.3,.4],ticktext=["0.0","0.1","0.2","0.3","0.4"],tickfont=serif_tick(size))

# main spectrum
xn,yn = add_axes(570,598,934,877.7,
    dict(range=[8,.6],tickvals=[8,7,6,5,4,3,2,1],ticktext=[str(v) for v in [8,7,6,5,4,3,2,1]],showgrid=False,zeroline=False,showline=True,
         linecolor="black",linewidth=1,ticks="inside",ticklen=4,tickfont=serif_tick(17)),
    dict(range=[-2.05,2.55],tickvals=[-2,-1,0,1,2],ticktext=["-2","-1","0","1","2"],showgrid=False,zeroline=False,showline=True,
         linecolor="black",linewidth=1,ticks="inside",ticklen=4,tickfont=serif_tick(17)))
coloured(ppm_full,coef_full,corr_full,xn,yn,1.5)
fig.add_trace(go.Scatter(x=ppm_full,y=coef_full,mode="markers",xaxis=xn,yaxis=yn,
    marker=dict(size=1.5,color=corr_full,colorscale=JET,cmin=0,cmax=.4,showscale=True,colorbar=cbar(937,599,878,36,17))))
txt("Regression Coefficient (a.u.)",538,737,size=14.5,family=SERIF,bold=True,angle=-90)
txt("x 10<sup>-5</sup>",591,590,size=15,family=SERIF,bold=True)
txt("δ<sup>1</sup>H (ppm)",751,904,size=15,family=SERIF,bold=True)

# expanded spectrum
xn,yn = add_axes(1082.7,648,1361.7,871,
    dict(range=[1.1127,.9091],tickvals=[1.1,1.05,1,.95],ticktext=["1.1","1.05","1","0.95"],showgrid=False,zeroline=False,showline=True,
         linecolor="black",linewidth=1,ticks="inside",ticklen=3,tickfont=serif_tick(13)),
    dict(range=[-.155,5.02],tickvals=[0,1,2,3,4,5],ticktext=["0","1","2","3","4","5"],showgrid=False,zeroline=False,showline=True,
         linecolor="black",linewidth=1,ticks="inside",ticklen=3,tickfont=serif_tick(13)))
coloured(ppm_zoom,coef_zoom,corr_zoom,xn,yn,1.2)
fig.add_trace(go.Scatter(x=ppm_zoom,y=coef_zoom,mode="markers",xaxis=xn,yaxis=yn,
    marker=dict(size=1,color=corr_zoom,colorscale=JET,cmin=0,cmax=.4,showscale=True,colorbar=cbar(1363,648,871,28,13))))
txt("Regression Coefficient (a.u.)",1064,760,size=12,family=SERIF,bold=True,angle=-90)
txt("x 10<sup>-6</sup>",1099,640,size=11.5,family=SERIF,bold=True)
txt("δ<sup>1</sup>H (ppm)",1222,896,size=12.5,family=SERIF,bold=True)

# --- PLS-DA clouds ---
def flat(segs):
    xs,ys = [],[]
    for a,b in segs:
        xs += [a[0],b[0],None]; ys += [a[1],b[1],None]
    return xs,ys
def lerp(a,b,t): return (a[0]+(b[0]-a[0])*t, a[1]+(b[1]-a[1])*t)

for P in clouds:
    cx,cy,cw,ch = P["crop"]
    blank = dict(visible=False)
    xn,yn = add_axes(cx,cy,cx+cw,cy+ch, dict(range=[0,3*cw],**blank), dict(range=[3*ch,0],**blank))
    grid = []
    for w in P["walls"]:
        a,b,c,d = w
        for k in range(1,5):
            t = k/5
            grid.append([lerp(a,b,t),lerp(d,c,t)])
            grid.append([lerp(a,d,t),lerp(b,c,t)])
    gx,gy = flat(grid)
    fig.add_trace(go.Scatter(x=gx,y=gy,mode="lines",xaxis=xn,yaxis=yn,line=dict(color="#bdbdbd",width=1)))
    if "thick" in P:
        tx_,ty_ = flat(P["thick"])
        fig.add_trace(go.Scatter(x=tx_,y=ty_,mode="lines",xaxis=xn,yaxis=yn,line=dict(color="#aaaaaa",width=2)))
    tk = []
    for a,b,n,(dx,dy) in P["ticks"]:
        for k in range(n+1):
            p = lerp(a,b,k/n)
            tk.append([p,(p[0]+dx,p[1]+dy)])
    ex,ey = flat(P["edges"]+tk)
    fig.add_trace(go.Scatter(x=ex,y=ey,mode="lines",xaxis=xn,yaxis=yn,line=dict(color="#111111",width=1)))
    fig.add_trace(go.Scatter(x=[p[0] for p in P["black"]],y=[p[1] for p in P["black"]],mode="markers",xaxis=xn,yaxis=yn,
                             marker=dict(symbol="square",size=7,color="black")))
    fig.add_trace(go.Scatter(x=[p[0] for p in P["red"]],y=[p[1] for p in P["red"]],mode="markers",xaxis=xn,yaxis=yn,
                             marker=dict(symbol="circle",size=8.5,color="#ff0000")))
    fig.add_trace(go.Scatter(x=[p[0] for p in P["over"]],y=[p[1] for p in P["over"]],mode="markers",xaxis=xn,yaxis=yn,
                             marker=dict(symbol="square",size=5,color="black")))
    for s,zx,zy,ang,size in P["labels"]:
        txt(s,cx+zx/3,cy+zy/3,size=size,color="#222222",angle=ang)

# --- section titles and red labels ---
annots.append(dict(text='<b><span style="color:#333333">PCA (60%) - </span><span style="color:#d40000">Dietary Profiles</span></b>',
                   x=245/W,y=1-25/H,xref="paper",yref="paper",showarrow=False,xanchor="center",yanchor="middle",font=dict(size=26.8,family=SANS)))
txt("PLS-DA",938,23,size=26,color=DARK,bold=True)
for s,x,y in [("Energy",364,74),("Alcohol",295,207),("Fiber Diet",110,344),("Simple Sugars/Complex CHO",230,485),("Skim/Full Milk",124,625)]:
    txt(s,x,y,size=19,color=RED,bold=True)
for s,x,y,c in [("Energy",747,117,DARK),("Energy",574,243,BRIGHT),("Alcohol",942,95,DARK),("Non-Alcohol",902,237,BRIGHT),
                ("Low fiber diet",1354,85,BRIGHT),("High fiber diet",1230,248,DARK),("Simple Sugars",697,378,DARK),
                ("Complex",872,519,BRIGHT),("Carbohydrates",905,545,BRIGHT),("Full Milk",1043,426,BRIGHT),("Skim Milk",1190,524,DARK)]:
    txt(s,x,y,size=23,color=c,bold=True)

# ellipses
for e in [(50,54,267,113),(70,195,130,217),(169,195,222,217),(408,188,461,210),(177,352,319,388),(199,403,468,441),
          (80,492,222,537),(371,471,476,522),(43,559,185,591),(267,559,408,590),(319,605,379,634),(326,687,416,731)]:
    ellipse(*e)

# box on spectrum, rule under Conclusions
shapes.append(dict(type="rect",xref="paper",yref="paper",x0=897/W,x1=929/W,y0=1-702/H,y1=1-757/H,line=dict(color="#333333",width=2)))
shapes.append(dict(type="line",xref="paper",yref="paper",x0=201/W,x1=494/W,y0=1-792/H,y1=1-792/H,line=dict(color=NAVY,width=4.5)))

# arrows, on a full-page pixel axis
xo,yo = add_axes(0,0,W,H, dict(range=[0,W],visible=False), dict(range=[H,0],visible=False))
def arrow(x0,y0,x1,y1,color,width,head):
    ux,uy = (x1-x0),(y1-y0)
    L = (ux*ux+uy*uy)**.5
    sx,sy = x1-ux/L*head*.6, y1-uy/L*head*.6
    fig.add_trace(go.Scatter(x=[x0,sx],y=[y0,sy],mode="lines",xaxis=xo,yaxis=yo,line=dict(color=color,width=width)))
    fig.add_trace(go.Scatter(x=[x0,x1],y=[y0,y1],mode="markers",xaxis=xo,yaxis=yo,
                             marker=dict(symbol="arrow",angleref="previous",size=[0,head],color=color,line=dict(width=0))))
arrow(1071,573,1006,615,"#2a2a2a",4.5,24)
arrow(994,757,1037,757,"#2a2a2a",5,24)
arrow(700,130,700,97,"#333333",1.5,14)
arrow(530,222,530,260,BRIGHT,1.5,14)

# conclusions text
txt("Conclusions",-3,791,size=30,color=NAVY,bold=True,anchor="left")
GREY = "#595959"
n = "\u00a0\u200a"
txt(f"•{n}Five{n}major{n}dietary{n}profiles{n}(60%{n}of{n}explained{n}variance)",-2,828,size=19,color=GREY,anchor="left")
txt("have been defined, taking into account the huge variability",-2,851,size=19,color=GREY,anchor="left")
txt("of FFQ.",-3,873,size=19,color=GREY,anchor="left")
txt("• Encoding PCA scores allows us to obtain a suitable PLS-",-2,903,size=19,color=GREY,anchor="left")

layout["annotations"] = annots
layout["shapes"] = shapes
fig.update_layout(**layout)
fig.write_html("out.html", config=dict(displayModeBar=False), post_script="document.body.style.margin='0';document.body.style.overflow='hidden';")
